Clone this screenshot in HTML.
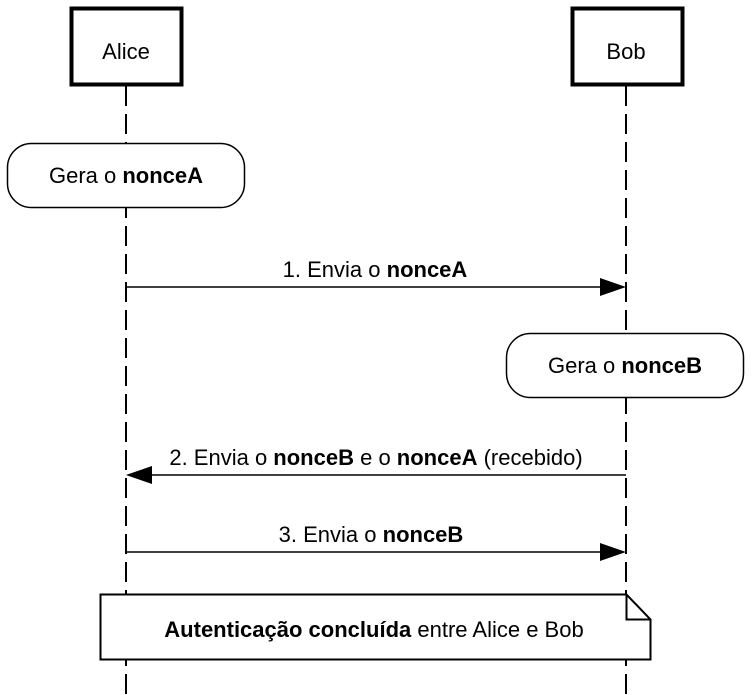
<!DOCTYPE html>
<html><head><meta charset="utf-8"><style>
body{margin:0;background:#fff}
svg{display:block;font-family:"Liberation Sans",Arial,sans-serif}
</style></head><body>
<svg width="752" height="695" viewBox="0 0 752 695" xmlns="http://www.w3.org/2000/svg">
<g stroke="#000" stroke-width="2" stroke-dasharray="20,8" fill="none">
<line x1="126" y1="86" x2="126" y2="695"/>
<line x1="626" y1="86" x2="626" y2="695"/>
</g>
<rect x="71.5" y="8.5" width="110" height="76" fill="#fff" stroke="#000" stroke-width="4"/>
<rect x="572.5" y="8.5" width="110" height="76" fill="#fff" stroke="#000" stroke-width="4"/>
<g font-size="22">
<text x="126" y="59" text-anchor="middle">Alice</text>
<text x="626" y="59" text-anchor="middle">Bob</text>
<rect x="7.5" y="143.5" width="237" height="64" rx="24" fill="#fff" stroke="#000" stroke-width="1.5"/>
<text x="126" y="183" text-anchor="middle">Gera o <tspan font-weight="bold">nonceA</tspan></text>
<rect x="506.5" y="333.5" width="237" height="64" rx="24" fill="#fff" stroke="#000" stroke-width="1.5"/>
<text x="625" y="373" text-anchor="middle">Gera o <tspan font-weight="bold">nonceB</tspan></text>
<line x1="126" y1="287" x2="604" y2="287" stroke="#000" stroke-width="1.5"/>
<polygon points="626,287 600,278 600,296" fill="#000"/>
<text x="375" y="277" text-anchor="middle">1. Envia o <tspan font-weight="bold">nonceA</tspan></text>
<line x1="148" y1="475" x2="626" y2="475" stroke="#000" stroke-width="1.5"/>
<polygon points="126,475 152,466 152,484" fill="#000"/>
<text x="376" y="465" text-anchor="middle">2. Envia o <tspan font-weight="bold">nonceB</tspan> e o <tspan font-weight="bold">nonceA</tspan> (recebido)</text>
<line x1="126" y1="552" x2="604" y2="552" stroke="#000" stroke-width="1.5"/>
<polygon points="626,552 600,543 600,561" fill="#000"/>
<text x="371" y="542" text-anchor="middle">3. Envia o <tspan font-weight="bold">nonceB</tspan></text>
<path d="M100.5 594.5 H626.5 L650.5 619.5 V659.5 H100.5 Z" fill="#fff" stroke="#000" stroke-width="2"/>
<path d="M626.5 594.5 V619.5 H650.5" fill="none" stroke="#000" stroke-width="2"/>
<text x="374" y="637" text-anchor="middle"><tspan font-weight="bold">Autenticação concluída</tspan> entre Alice e Bob</text>
</g>
</svg>
</body></html>
